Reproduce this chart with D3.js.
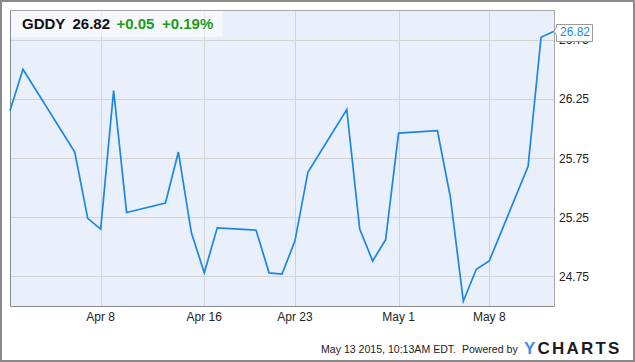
<!DOCTYPE html>
<html><head><meta charset="utf-8">
<script src="https://cdn.jsdelivr.net/npm/d3@7"></script>
<style>html,body{margin:0;padding:0;background:#fff;}svg{display:block;font-family:"Liberation Sans",Arial,sans-serif;}</style>
</head><body>
<svg id="c" width="635" height="362"></svg>
<script>
const dates = ["2015-04-01","2015-04-02","2015-04-06","2015-04-07","2015-04-08","2015-04-09","2015-04-10",
  "2015-04-13","2015-04-14","2015-04-15","2015-04-16","2015-04-17","2015-04-20","2015-04-21","2015-04-22",
  "2015-04-23","2015-04-24","2015-04-27","2015-04-28","2015-04-29","2015-04-30","2015-05-01","2015-05-04",
  "2015-05-05","2015-05-06","2015-05-07","2015-05-08","2015-05-11","2015-05-12","2015-05-13"];
const prices = [26.15,26.50,25.80,25.24,25.15,26.32,25.29,25.37,25.80,25.12,24.78,25.16,25.14,24.78,24.77,
  25.05,25.63,26.16,25.15,24.88,25.06,25.96,25.98,25.42,24.54,24.81,24.88,25.68,26.77,26.82];
const xTickDates = ["2015-04-08","2015-04-16","2015-04-23","2015-05-01","2015-05-08"];
const xTickLabels = ["Apr 8","Apr 16","Apr 23","May 1","May 8"];
const yTicks = [24.75,25.25,25.75,26.25,26.75];
const headerParts = ["GDDY","26.82","+0.05","+0.19%"];
const footerText = "May 13 2015, 10:13AM EDT.  Powered by";

const parse = d3.utcParse("%Y-%m-%d");
const data = dates.map((d,i)=>({date:parse(d), v:prices[i]}));
const L=10, R=554, T=10, B=306;
const x = d3.scaleUtc().domain([parse("2015-04-01"), parse("2015-05-13")]).range([L,R]);
const y = d3.scaleLinear().domain([24.5,27]).range([B,T]);
const svg = d3.select("#c");

svg.append("rect").attr("x",1).attr("y",1).attr("width",633).attr("height",360)
  .attr("fill","#fff").attr("stroke","#8a8a8a").attr("stroke-width",2);
svg.append("rect").attr("x",L).attr("y",T).attr("width",R-L).attr("height",B-T).attr("fill","#eaf0fb");
svg.append("g").selectAll("line").data(yTicks).join("line")
  .attr("x1",L).attr("x2",R).attr("y1",d=>Math.round(y(d))+0.5).attr("y2",d=>Math.round(y(d))+0.5)
  .attr("stroke","#d3d3d3").attr("stroke-width",1);
svg.append("g").selectAll("line").data(xTickDates).join("line")
  .attr("x1",d=>Math.round(x(parse(d)))+0.5).attr("x2",d=>Math.round(x(parse(d)))+0.5)
  .attr("y1",T).attr("y2",B).attr("stroke","#d3d3d3").attr("stroke-width",1);
svg.append("rect").attr("x",L+0.5).attr("y",T+0.5).attr("width",212).attr("height",26)
  .attr("fill","#fff").attr("fill-opacity",0.55);
svg.append("path").attr("d",`M${L+0.5},${T+0.5}H${R+0.5}V${B+0.5}`).attr("fill","none").attr("stroke","#a8a8a8");
svg.append("path").attr("d",`M${L+0.5},${T+0.5}V${B+0.5}H${R+0.5}`).attr("fill","none").attr("stroke","#8a8a8a");

svg.append("path").datum(data).attr("fill","none").attr("stroke","#1a87e6").attr("stroke-width",1.7)
  .attr("stroke-linejoin","miter")
  .attr("d", d3.line().x(d=>x(d.date)).y(d=>y(d.v)));

svg.append("g").selectAll("text").data(yTicks).join("text")
  .attr("x",559).attr("y",d=>y(d)+4.5).attr("font-size",12).attr("fill","#222")
  .text(d=>d3.format(".2f")(d));
svg.append("g").selectAll("text").data(xTickDates).join("text")
  .attr("x",d=>x(parse(d))).attr("y",321).attr("text-anchor","middle").attr("font-size",12).attr("fill","#222")
  .text((d,i)=>xTickLabels[i]);

// header texts
const hx = [22, 72.5, 116.5, 162];
const hc = ["#111","#111","#1a9b1a","#1a9b1a"];
svg.append("g").selectAll("text").data(headerParts).join("text")
  .attr("x",(d,i)=>hx[i]).attr("y",28.5).attr("font-size",15).attr("font-weight","bold")
  .attr("fill",(d,i)=>hc[i]).text(d=>d);

// last price tag
const last = data[data.length-1];
const px = x(last.date), py = y(last.v);
const bx = 556.5, bw = 36, bt = 24.5, bb = 41.5;
svg.append("path")
  .attr("d",`M${px},${py}L${bx},${py-4}V${bt}H${bx+bw}V${bb}H${bx}V${py+4}Z`)
  .attr("fill","#fff").attr("stroke","#999").attr("stroke-width",1);
svg.append("text").attr("x",bx+bw/2+0.5).attr("y",py+4.5).attr("text-anchor","middle")
  .attr("font-size",12).attr("fill","#1a87e6").text(last.v.toFixed(2));

// footer
const ft = svg.append("text").attr("x",321).attr("y",353).attr("font-size",12).attr("fill","#222")
  .attr("xml:space","preserve").text(footerText);
const w = ft.node().getComputedTextLength();
if (w > 197) ft.attr("font-size", 12*197/w);
const lg = svg.append("text").attr("x",524).attr("y",354).attr("font-size",17).attr("font-weight","bold").attr("letter-spacing",2.2);
lg.append("tspan").attr("fill","#3b8fe6").text("Y");
lg.append("tspan").attr("fill","#1c1c1c").text("CHARTS");
</script>
</body></html>
